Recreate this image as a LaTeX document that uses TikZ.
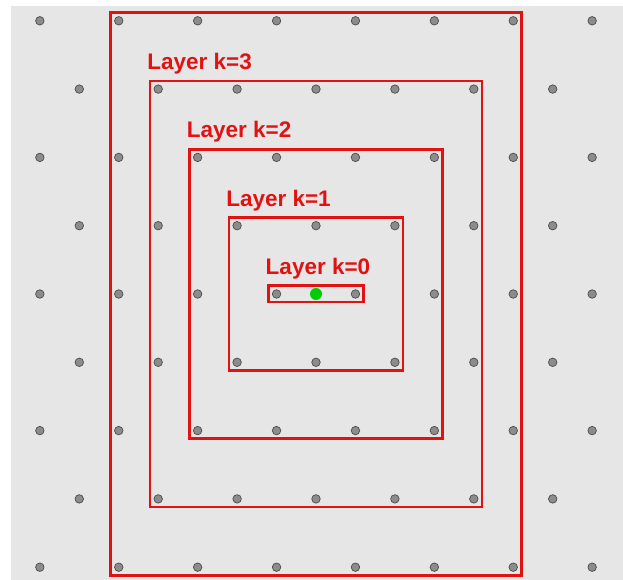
\documentclass[tikz,border=0pt]{standalone}
\usepackage{fontspec}
\setmainfont{Liberation Sans}
\usetikzlibrary{fit}

\definecolor{layerred}{RGB}{226,18,18}
\definecolor{sheet}{RGB}{230,230,230}

\begin{document}
\begin{tikzpicture}[
        x=39.45pt, y=68.3pt,
        site/.style={circle,fill=black!45,draw=black!70,line width=0.7pt,minimum size=8.5pt,inner sep=0pt},
        origin/.style={circle,fill=green!80!black,minimum size=12pt,inner sep=0pt},
        layer/.style={draw=layerred,line width=2.8pt,inner sep=3.5pt,fit=#1},
        caption/.style={text=layerred,font=\fontsize{22.5}{26}\selectfont\bfseries,anchor=base west,inner sep=0pt}
    ]
    \useasboundingbox (-316pt,-286pt) rectangle (307pt,294pt);
    \fill[sheet] (-305pt,-286pt) rectangle (307pt,288pt);

    % lattice sites
    \foreach \j in {-4,...,4}
        \foreach \i in {-7,...,7} {
            \pgfmathtruncatemacro\odd{mod(\i+\j+20,2)}
            \ifnum\odd=1
                \node[site] (d\i_\j) at (\i,\j) {};
            \fi
        }
    \node[origin] (c) at (0,0) {};

    % layers
    \node[layer={(d-1_0)(d1_0)}] (L0) {};
    \node[layer={(d-2_1)(d2_-1)}] (L1) {};
    \node[layer={(d-3_2)(d3_-2)}] (L2) {};
    \node[layer={(d-4_3)(d4_-3)}] (L3) {};
    \node[layer={(d-5_4)(d5_-4)}] (L4) {};

    \node[caption] (t0) at ([shift={(-1.5pt,10pt)}]L0.north west) {Layer k=0};
    \node[caption] (t1) at ([shift={(-1.5pt,10pt)}]L1.north west) {Layer k=1};
    \node[caption] (t2) at ([shift={(-1.5pt,10pt)}]L2.north west) {Layer k=2};
    \node[caption] (t3) at ([shift={(-1.5pt,10pt)}]L3.north west) {Layer k=3};
\end{tikzpicture}
\end{document}
